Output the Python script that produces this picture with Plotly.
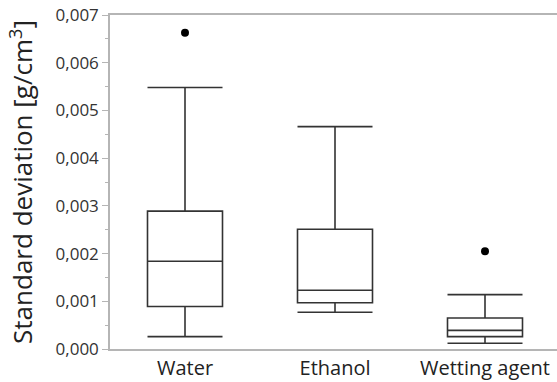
import plotly.graph_objects as go

categories = ["Water", "Ethanol", "Wetting agent"]
lower_whisker = [0.00026, 0.00077, 0.00012]
q1 = [0.00089, 0.00097, 0.00026]
median = [0.00184, 0.00123, 0.00039]
q3 = [0.00289, 0.00251, 0.00065]
upper_whisker = [0.00548, 0.00466, 0.00114]
outlier_cats = ["Water", "Wetting agent"]
outlier_vals = [0.00663, 0.00205]
y_ticks = [0, 0.001, 0.002, 0.003, 0.004, 0.005, 0.006, 0.007]

FONT = "Open Sans"
fig = go.Figure()
fig.add_trace(go.Box(
    x=categories, q1=q1, median=median, q3=q3,
    lowerfence=lower_whisker, upperfence=upper_whisker,
    width=0.5, whiskerwidth=1, boxpoints=False,
    fillcolor="rgba(0,0,0,0)", line=dict(color="#333333", width=1.6),
    showlegend=False, hoverinfo="skip",
))
fig.add_trace(go.Scatter(
    x=outlier_cats, y=outlier_vals, mode="markers",
    marker=dict(color="black", size=8), showlegend=False,
))
fig.update_layout(
    width=557, height=382,
    margin=dict(l=110, r=0, t=15, b=33),
    paper_bgcolor="white", plot_bgcolor="white",
    separators=",.",
    font=dict(family=FONT, color="#222222"),
    xaxis=dict(
        type="category", range=[-0.5, 2.48], automargin=False,
        showline=True, mirror=True, linecolor="#b5b5b5", linewidth=1.5,
        ticks="", showgrid=False, zeroline=False,
        tickfont=dict(size=20, family=FONT, color="#222222"),
    ),
    yaxis=dict(
        range=[0, 0.007], tickvals=y_ticks, tickformat=".3f", automargin=False,
        showline=True, linecolor="#b5b5b5", linewidth=1.5,
        ticks="outside", ticklen=6, tickcolor="#b5b5b5",
        minor=dict(dtick=0.0005, ticks="outside", ticklen=3, tickcolor="#b5b5b5"),
        showgrid=False, zeroline=False,
        tickfont=dict(size=17, family=FONT, color="#333333"),
        title=dict(text="Standard deviation [g/cm<sup>3</sup>]",
                   font=dict(size=26, family=FONT, color="#222222"), standoff=15),
    ),
)
fig.write_html("out.html", config={"displayModeBar": False},
               post_script="document.body.style.margin='0';")
